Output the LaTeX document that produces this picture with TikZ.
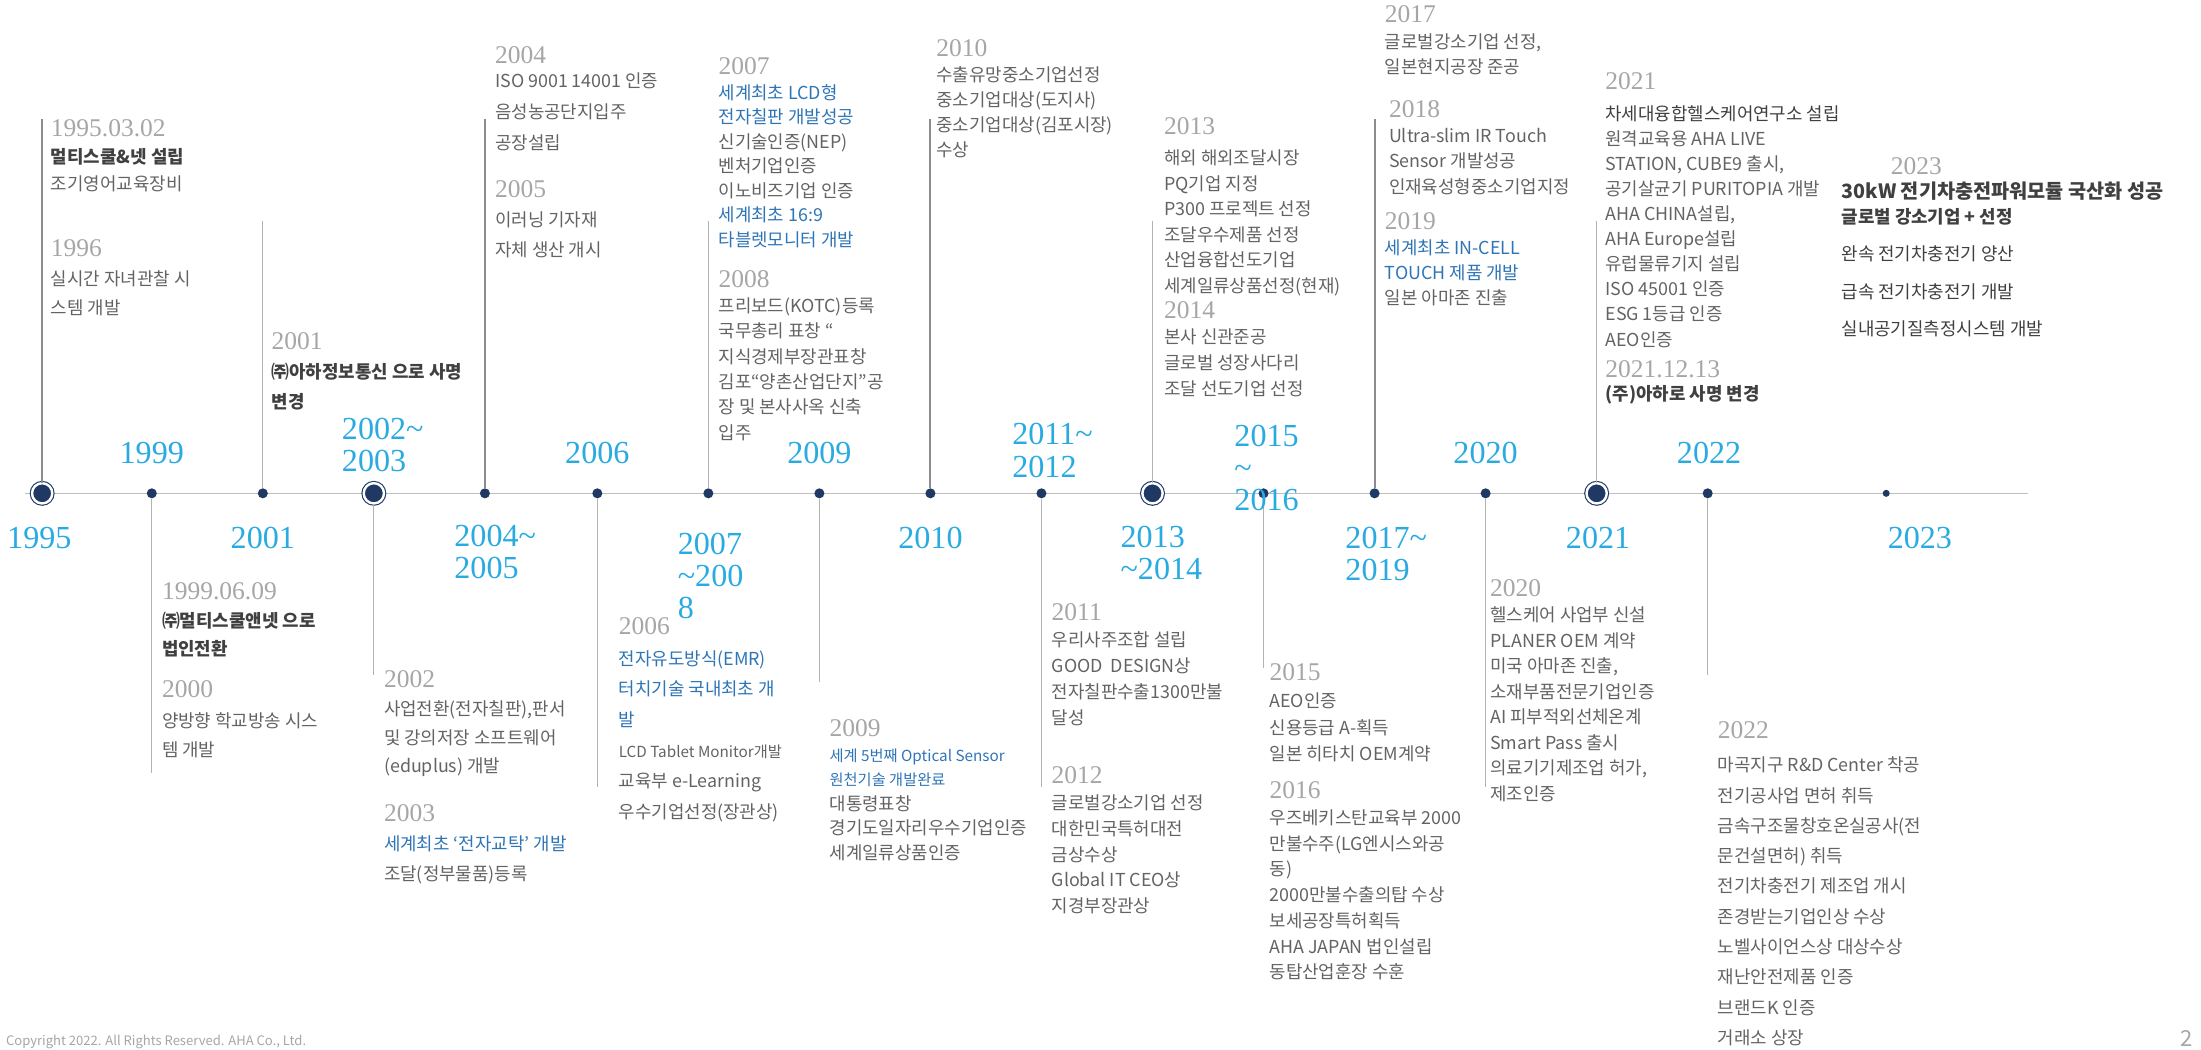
\documentclass[tikz,border=0pt]{standalone}
\usepackage{fontspec}
\setmainfont{Noto Sans CJK KR}
\newfontfamily\yearfont{Liberation Serif}

\definecolor{yearblue}{HTML}{29ABE2}
\definecolor{headgray}{HTML}{A6A6A6}
\definecolor{bodygray}{HTML}{636363}
\definecolor{bodyblue}{HTML}{2E75B6}
\definecolor{darktxt}{HTML}{404040}
\definecolor{navy}{HTML}{1F3864}
\definecolor{axisgray}{HTML}{BFBFBF}
\definecolor{stemgray}{HTML}{8C8C8C}
\definecolor{linegray}{HTML}{B3B3B3}

\newcommand\yhead[1]{{\yearfont\fontsize{12.7pt}{12pt}\selectfont\color{headgray}#1}}
\newcommand\bluetxt[1]{{\color{bodyblue}#1}}
\newcommand\strongtxt[1]{{\bfseries\color{darktxt}#1}}
\newcommand\darktxt[1]{{\color{darktxt}#1}}
\newcommand\smalltxt[1]{{\fontsize{7.6pt}{9pt}\selectfont#1}}

\begin{document}
\begin{tikzpicture}[
			x=0.7pt, y=-0.7pt,
			yearlbl/.style={
				inner sep=0pt,
				align=left,
				text=yearblue,
				font=\yearfont\fontsize{16pt}{16pt}\selectfont,
			},
			evtext/.style={
				anchor=north west,
				inner sep=0pt,
				align=left,
				text=bodygray,
				font=\fontsize{8.9pt}{#1}\selectfont,
			},
			evtext/.default=12.6pt,
			evdot/.style={circle, fill=navy, inner sep=0pt, minimum size=5pt},
			bigdot/.style={circle, fill=navy, draw=navy, inner sep=0pt, minimum size=10.1pt,
				line width=0.55pt, double=white, double distance=1.2pt},
			stemdark/.style={draw=stemgray, line width=1pt},
			stemlight/.style={draw=linegray, line width=0.6pt},
		]
		\useasboundingbox (0,0) rectangle (1566,747);

		% time axis
		\coordinate(axisL) at (18,351);
		\coordinate(axisR) at (1443,351);
		\draw[axisgray, line width=0.8pt] (axisL) -- (axisR);

		% markers
		\node(d1995)[bigdot] at (30,351)   {};
		\node(d2002)[bigdot] at (266,351)  {};
		\node(d2013)[bigdot] at (820,351)  {};
		\node(d2021)[bigdot] at (1136,351) {};
		\foreach \yr/\px in {1999/108, 2001/187, 2004/345, 2006/425, 2007/504, 2009/583,
				2010/662, 2011/741, 2015/899, 2017/978, 2020/1057, 2022/1215}
			\node(d\yr)[evdot] at (\px,351) {};
		\node(d2023)[evdot, minimum size=3.5pt] at (1342,351) {};

		% stems
		\coordinate(t1995) at (30,85);
		\coordinate(t2001) at (187,157);
		\coordinate(t2004) at (345,85);
		\coordinate(t2007) at (504,157);
		\coordinate(t2010) at (662,85);
		\coordinate(t2013) at (820,157);
		\coordinate(t2017) at (978,85);
		\coordinate(t2021) at (1136,157);
		\coordinate(b1999) at (108,550);
		\coordinate(b2002) at (266,480);
		\coordinate(b2006) at (425,560);
		\coordinate(b2009) at (583,485);
		\coordinate(b2011) at (741,560);
		\coordinate(b2015) at (899,475);
		\coordinate(b2020) at (1057,560);
		\coordinate(b2022) at (1215,480);
		\path (d1995) edge[stemdark] (t1995);
		\path (d2004) edge[stemdark] (t2004);
		\path (d2010) edge[stemdark] (t2010);
		\path (d2017) edge[stemdark] (t2017);
		\path (d2001) edge[stemlight] (t2001);
		\path (d2007) edge[stemlight] (t2007);
		\path (d2013) edge[stemlight] (t2013);
		\path (d2021) edge[stemlight] (t2021);
		\path (d1999) edge[stemlight] (b1999);
		\path (d2002) edge[stemlight] (b2002);
		\path (d2006) edge[stemlight] (b2006);
		\path (d2009) edge[stemlight] (b2009);
		\path (d2011) edge[stemlight] (b2011);
		\path (d2015) edge[stemlight] (b2015);
		\path (d2020) edge[stemlight] (b2020);
		\path (d2022) edge[stemlight] (b2022);

		% year labels
		\node(y1999)[yearlbl] at (108,322)  {1999};
		\node(y2002)[yearlbl, anchor=west] at (243,316.5) {2002\textasciitilde\\2003};
		\node(y2006)[yearlbl] at (425,322)  {2006};
		\node(y2009)[yearlbl] at (583,322)  {2009};
		\node(y2011)[yearlbl, anchor=west] at (720,320.5) {2011\textasciitilde\\2012};
		\node(y2015)[yearlbl, anchor=west] at (878,333) {2015\\\textasciitilde\\2016};
		\node(y2020)[yearlbl] at (1057,322) {2020};
		\node(y2022)[yearlbl] at (1216,322) {2022};
		\node(y1995)[yearlbl] at (28,383)   {1995};
		\node(y2001)[yearlbl] at (187,383)  {2001};
		\node(y2004)[yearlbl, anchor=west] at (323,393) {2004\textasciitilde\\2005};
		\node(y2007)[yearlbl, anchor=west] at (482,410) {2007\\\textasciitilde200\\8};
		\node(y2010)[yearlbl] at (662,383)  {2010};
		\node(y2013)[yearlbl, anchor=west] at (797,393.5) {2013\\\textasciitilde2014};
		\node(y2017)[yearlbl, anchor=west] at (957,394) {2017\textasciitilde\\2019};
		\node(y2021)[yearlbl] at (1137,383) {2021};
		\node(y2023)[yearlbl] at (1366,383) {2023};

		% events above the axis
		\node(e1995)[evtext=13.3pt] at (36,85) {\yhead{1995.03.02}\\\strongtxt{멀티스쿨\&넷 설립}\\조기영어교육장비};
		\node(e1996)[evtext=14.5pt] at (36,170) {\yhead{1996}\\실시간 자녀관찰 시\\스템 개발};
		\node(e2001)[evtext=14.7pt] at (193,236) {\yhead{2001}\\\strongtxt{㈜아하정보통신 으로 사명}\\\strongtxt{변경}};
		\node(e2004)[evtext=15.6pt] at (352,33) {\yhead{2004}\\[-4pt]ISO 9001 14001 인증\\음성농공단지입주\\공장설립};
		\node(e2005)[evtext=14.7pt] at (352,128) {\yhead{2005}\\이러닝 기자재\\자체 생산 개시};
		\node(e2007)[evtext=12.2pt] at (511,41) {\yhead{2007}\\\bluetxt{세계최초 LCD형}\\\bluetxt{전자칠판 개발성공}\\신기술인증(NEP)\\벤처기업인증\\이노비즈기업 인증\\\bluetxt{세계최초 16:9}\\\bluetxt{타블렛모니터 개발}};
		\node(e2008)[evtext=12.6pt] at (511,192) {\yhead{2008}\\프리보드(KOTC)등록\\국무총리 표창 “\\지식경제부장관표창\\김포“양촌산업단지”공\\장 및 본사사옥 신축\\입주};
		\node(e2010)[evtext=12.4pt] at (666,28) {\yhead{2010}\\수출유망중소기업선정\\중소기업대상(도지사)\\중소기업대상(김포시장)\\수상};
		\node(e2013)[evtext=12.7pt] at (828,83) {\yhead{2013}\\[2.5pt]해외 해외조달시장\\PQ기업 지정\\P300 프로젝트 선정\\조달우수제품 선정\\산업융합선도기업\\세계일류상품선정(현재)};
		\node(e2014)[evtext=12.8pt] at (828,214) {\yhead{2014}\\본사 신관준공\\글로벌 성장사다리\\조달 선도기업 선정};
		\node(e2017)[evtext=12.6pt] at (985,4) {\yhead{2017}\\글로벌강소기업 선정,\\일본현지공장 준공};
		\node(e2018)[evtext=12.6pt] at (988,71) {\yhead{2018}\\Ultra-slim IR Touch\\Sensor 개발성공\\인재육성형중소기업지정};
		\node(e2019)[evtext=12.4pt] at (985,151) {\yhead{2019}\\\bluetxt{세계최초 IN-CELL}\\\bluetxt{TOUCH 제품 개발}\\일본 아마존 진출};
		\node(e2021)[evtext=12.5pt] at (1142,51) {\yhead{2021}\\[3pt]\darktxt{차세대융합헬스케어연구소 설립}\\원격교육용 AHA LIVE\\STATION, CUBE9 출시,\\공기살균기 PURITOPIA 개발\\AHA CHINA설립,\\AHA Europe설립\\유럽물류기지 설립\\ISO 45001 인증\\ESG 1등급 인증\\AEO인증};
		\node(e2021b)[evtext=11.5pt] at (1142,256) {\yhead{2021.12.13}\\\strongtxt{(주)아하로 사명 변경}};
		\node(h2023)[evtext, anchor=west] at (1345,118) {\yhead{2023}};
		\node(e2023)[evtext=12.6pt] at (1310,129) {\strongtxt{\fontsize{9.8pt}{12pt}\selectfont 30kW 전기차충전파워모듈 국산화 성공}\\\strongtxt{글로벌 강소기업 + 선정}\\[6pt]\darktxt{완속 전기차충전기 양산}\\[6pt]\darktxt{급속 전기차충전기 개발}\\[6pt]\darktxt{실내공기질측정시스템 개발}};

		% events below the axis
		\node(e1999)[evtext=14pt] at (115,414) {\yhead{1999.06.09}\\\strongtxt{㈜멀티스쿨앤넷 으로}\\\strongtxt{법인전환}};
		\node(e2000)[evtext=14.7pt] at (115,484) {\yhead{2000}\\양방향 학교방송 시스\\템 개발};
		\node(e2002)[evtext=14pt] at (273,477) {\yhead{2002}\\사업전환(전자칠판),판서\\및 강의저장 소프트웨어\\(eduplus) 개발};
		\node(e2003)[evtext=14.7pt] at (273,572) {\yhead{2003}\\\bluetxt{세계최초 ‘전자교탁’ 개발}\\조달(정부물품)등록};
		\node(e2006)[evtext=15.3pt] at (440,439) {\yhead{2006}\\\bluetxt{전자유도방식(EMR)}\\\bluetxt{터치기술 국내최초 개}\\\bluetxt{발}\\\smalltxt{LCD Tablet Monitor개발}\\교육부 e-Learning\\우수기업선정(장관상)};
		\node(e2009)[evtext=12.2pt] at (590,512) {\yhead{2009}\\\smalltxt{\bluetxt{세계 5번째 Optical Sensor}}\\\smalltxt{\bluetxt{원천기술 개발완료}}\\대통령표창\\경기도일자리우수기업인증\\세계일류상품인증};
		\node(e2011)[evtext=13pt] at (748,429) {\yhead{2011}\\우리사주조합 설립\\GOOD\ \ DESIGN상\\전자칠판수출1300만불\\달성};
		\node(e2012)[evtext=12.9pt] at (748,545) {\yhead{2012}\\글로벌강소기업 선정\\대한민국특허대전\\금상수상\\Global IT CEO상\\지경부장관상};
		\node(e2015)[evtext=13.3pt] at (903,472) {\yhead{2015}\\AEO인증\\신용등급 A-획득\\일본 히타치 OEM계약};
		\node(e2016)[evtext=12.8pt] at (903,556) {\yhead{2016}\\우즈베키스탄교육부 2000\\만불수주(LG엔시스와공\\동)\\2000만불수출의탑 수상\\보세공장특허획득\\AHA JAPAN 법인설립\\동탑산업훈장 수훈};
		\node(e2020)[evtext=12.7pt] at (1060,412) {\yhead{2020}\\헬스케어 사업부 신설\\PLANER OEM 계약\\미국 아마존 진출,\\소재부품전문기업인증\\AI 피부적외선체온계\\Smart Pass 출시\\의료기기제조업 허가,\\제조인증};
		\node(e2022)[evtext=15.1pt] at (1222,513) {\yhead{2022}\\[1.5pt]마곡지구 R\&D Center 착공\\전기공사업 면허 취득\\금속구조물창호온실공사(전\\문건설면허) 취득\\전기차충전기 제조업 개시\\존경받는기업인상 수상\\노벨사이언스상 대상수상\\재난안전제품 인증\\브랜드K 인증\\거래소 상장};

		% footer
		\node(copyr)[anchor=west, inner sep=0pt, text=headgray, font=\fontsize{6.5pt}{7pt}\selectfont] at (4,741) {Copyright 2022. All Rights Reserved. AHA Co., Ltd.};
		\node(pageno)[inner sep=0pt, text=headgray, font=\fontsize{11pt}{12pt}\selectfont] at (1556,739) {2};
	\end{tikzpicture}
\end{document}
